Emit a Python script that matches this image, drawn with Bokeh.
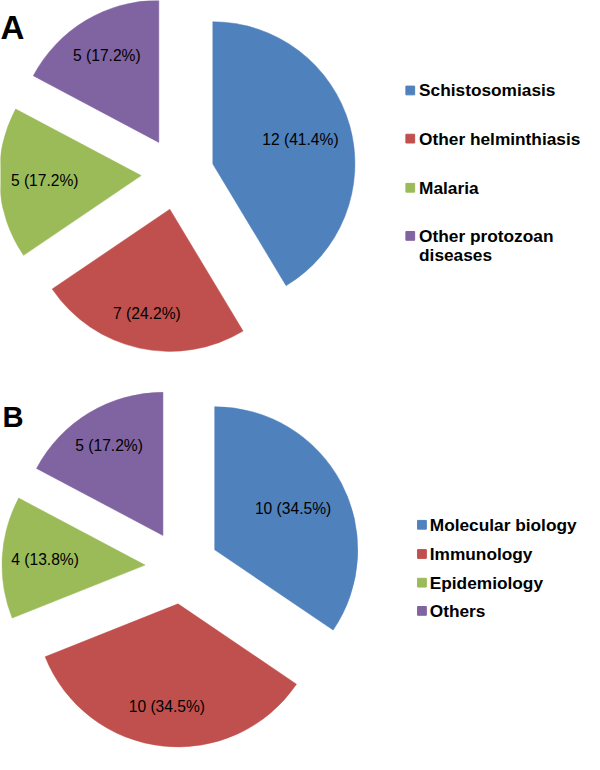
import math
from bokeh.plotting import figure
from bokeh.models import Range1d, ColumnDataSource
from bokeh.core.properties import value
from bokeh.embed import file_html
from bokeh.resources import INLINE

# ---------------- data ----------------
cats_a = ["Schistosomiasis", "Other helminthiasis", "Malaria", "Other protozoan diseases"]
counts_a = [12, 7, 5, 5]
pct_a = [41.4, 24.2, 17.2, 17.2]

cats_b = ["Molecular biology", "Immunology", "Epidemiology", "Others"]
counts_b = [10, 10, 4, 5]
pct_b = [34.5, 34.5, 13.8, 17.2]

colors = ["#4F81BD", "#C0504D", "#9BBB59", "#8064A2"]

# ---------------- layout (reference pixel space, y measured downward) ----------------
W, H = 600, 770
PW = 584
PH = round(H * PW / W)
S = PW / W

FONT = "Liberation Sans"

p = figure(width=PW, height=PH, x_range=Range1d(0, W), y_range=Range1d(0, H),
           output_backend="svg", toolbar_location=None, min_border=0)
p.axis.visible = False
p.grid.visible = False
p.outline_line_color = None
p.background_fill_color = "white"
p.border_fill_color = "white"


def Y(y):
    return H - y


def px(v):
    return f"{v * S:.1f}px"


def draw_pie(counts, pcts, cx, cy, r, explode, label_frac):
    total = sum(counts)
    start_clock = 0.0
    xs, ys, sa, ea = [], [], [], []
    lx, ly, lt = [], [], []
    for i, c in enumerate(counts):
        span = 360.0 * c / total
        end_clock = start_clock + span
        mid = math.radians(90 - (start_clock + end_clock) / 2)
        ox = cx + explode * math.cos(mid)
        oy = Y(cy) + explode * math.sin(mid)
        xs.append(ox)
        ys.append(oy)
        sa.append(math.radians(90 - end_clock))
        ea.append(math.radians(90 - start_clock))
        lx.append(ox + label_frac[i] * r * math.cos(mid))
        ly.append(oy + label_frac[i] * r * math.sin(mid))
        lt.append(f"{c} ({pcts[i]:.1f}%)")
        start_clock = end_clock
    src = ColumnDataSource(dict(x=xs, y=ys, sa=sa, ea=ea, color=colors[:len(counts)]))
    p.wedge(x="x", y="y", radius=r, start_angle="sa", end_angle="ea",
            fill_color="color", line_color="color", line_width=0.5, source=src)
    p.text(x=lx, y=ly, text=lt, text_font=value(FONT), text_font_size=px(16),
           text_align="center", text_baseline="middle", text_color="black")


def draw_legend(cats, sq_x, txt_x, ys, font_size, wrap=None, line_gap=20):
    p.scatter(x=[sq_x] * len(cats), y=[Y(v) for v in ys], marker="square",
              size=9 * S, fill_color=colors[:len(cats)], line_color=colors[:len(cats)])
    tx, ty, tt = [], [], []
    for c, yv in zip(cats, ys):
        lines = (wrap or {}).get(c, [c])
        for k, line in enumerate(lines):
            tx.append(txt_x)
            ty.append(Y(yv + k * line_gap))
            tt.append(line)
    p.text(x=tx, y=ty, text=tt,
           text_font=value(FONT), text_font_style="bold", text_font_size=px(font_size),
           text_align="left", text_baseline="middle", text_color="black")


# Panel A
draw_pie(counts_a, pct_a, 182, 178, 146, 37.5, [0.64, 0.75, 0.68, 0.71])
draw_legend(cats_a, 421, 430, [92.5, 142, 192.5, 242], 17.8,
            wrap={"Other protozoan diseases": ["Other protozoan", "diseases"]})

# Panel B
draw_pie(counts_b, pct_b, 186.5, 582.5, 147, 38, [0.62, 0.72, 0.70, 0.73])
draw_legend(cats_b, 433, 441, [539, 569, 598.5, 627.5], 17.8)

# Panel letters
p.text(x=[0], y=[Y(28)], text=["A"], text_font=value(FONT), text_font_style="bold",
       text_font_size=px(34), text_align="left", text_baseline="alphabetic")
p.text(x=[2], y=[Y(428)], text=["B"], text_font=value(FONT), text_font_style="bold",
       text_font_size=px(30), text_align="left", text_baseline="alphabetic")

open("out.html", "w").write(file_html(p, INLINE))
